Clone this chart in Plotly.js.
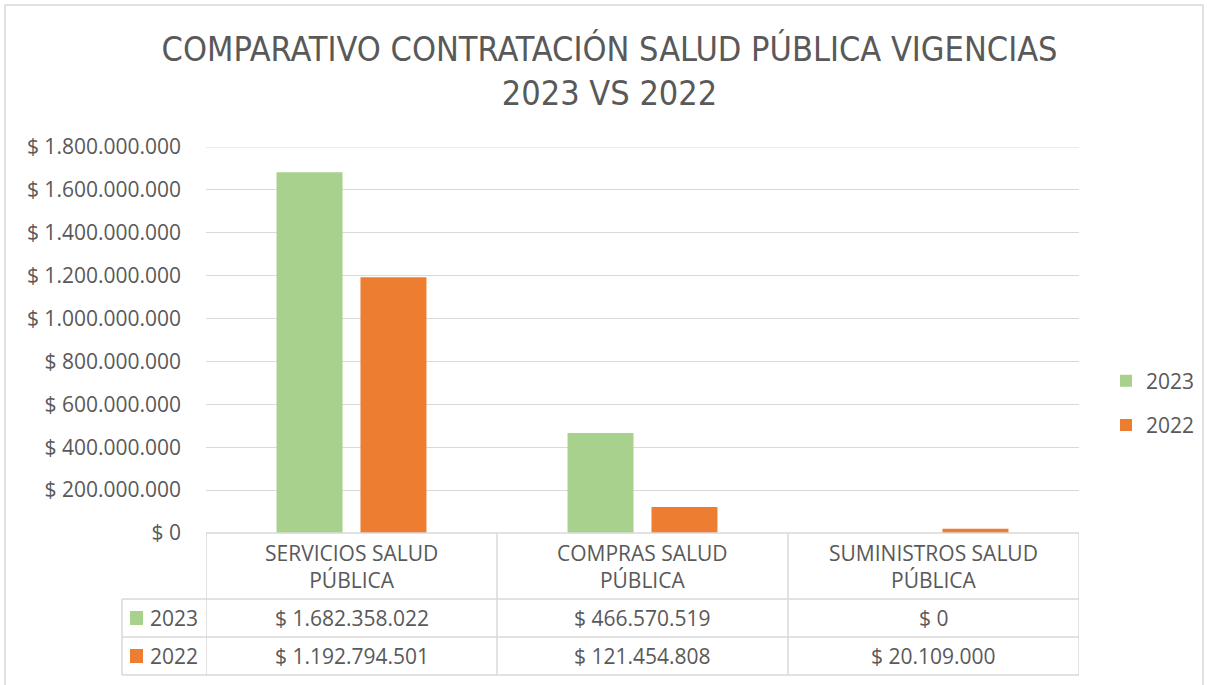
<!DOCTYPE html>
<html>
<head>
<meta charset="utf-8">
<script src="https://cdn.plot.ly/plotly-3.0.1.min.js"></script>
<style>html,body{margin:0;padding:0;background:#fff;}#chart{width:1207px;height:685px;}</style>
</head>
<body>
<div id="chart"></div>
<script>
// ---- data ----
const categories = ['SERVICIOS SALUD PÚBLICA', 'COMPRAS SALUD PÚBLICA', 'SUMINISTROS SALUD PÚBLICA'];
const categoryLabels = ['SERVICIOS SALUD<br>PÚBLICA', 'COMPRAS SALUD<br>PÚBLICA', 'SUMINISTROS SALUD<br>PÚBLICA'];
const seriesNames = ['2023', '2022'];
const values2023 = [1682358022, 466570519, 0];
const values2022 = [1192794501, 121454808, 20109000];
const yTickValues = [0, 200000000, 400000000, 600000000, 800000000, 1000000000, 1200000000, 1400000000, 1600000000, 1800000000];

// ---- style ----
const colors = ['#A9D18E', '#ED7D31'];
const textColor = '#595959';
const lineColor = '#D9D9D9';
const baseFont = 'Open Sans, Lato, sans-serif';
const fs = 21;

function fmt(n) {
  return '$ ' + String(n).replace(/\B(?=(\d{3})+(?!\d))/g, '.');
}

// pixel helpers for plot area: left 206, right 1079, top 147, bottom 533
const L = 206, R = 1079, T = 147, B = 533;
const px2x = p => (p - L) / (R - L);
const py2y = p => (B - p) / (B - T);

const series = [values2023, values2022];
const traces = series.map((vals, i) => ({
  type: 'bar',
  name: seriesNames[i],
  x: categories,
  y: vals,
  marker: {color: colors[i]},
  legendgroup: 'g' + i,
  hoverinfo: 'skip'
}));

const shapes = [];
const annotations = [];
const rowLines = [533, 599, 637, 675];

// outer frame
shapes.push({type: 'rect', xref: 'paper', yref: 'paper', x0: px2x(5), x1: px2x(1203), y0: py2y(5), y1: py2y(700), line: {color: lineColor, width: 1.5}});

// top gridline (at the edge of the range)
const yMax = yTickValues[yTickValues.length - 1];
shapes.push({type: 'line', xref: 'paper', yref: 'y', x0: 0, x1: 1, y0: yMax, y1: yMax, line: {color: lineColor, width: 1}});

// table horizontal lines
shapes.push({type: 'line', xref: 'x', yref: 'paper', x0: -0.5, x1: 2.5, y0: py2y(rowLines[0]), y1: py2y(rowLines[0]), line: {color: lineColor, width: 1.5}});
for (let k = 1; k < rowLines.length; k++) {
  shapes.push({type: 'line', xref: 'paper', yref: 'paper', x0: px2x(122), x1: 1, y0: py2y(rowLines[k]), y1: py2y(rowLines[k]), line: {color: lineColor, width: 1.5}});
}
// vertical lines
shapes.push({type: 'line', xref: 'paper', yref: 'paper', x0: px2x(122), x1: px2x(122), y0: py2y(rowLines[1]), y1: py2y(rowLines[3]), line: {color: lineColor, width: 1.5}});
[-0.5, 0.5, 1.5, 2.5].forEach(xv => {
  shapes.push({type: 'line', xref: 'x', yref: 'paper', x0: xv, x1: xv, y0: py2y(rowLines[0]), y1: py2y(rowLines[3]), line: {color: lineColor, width: 1.5}});
});

// header labels
categories.forEach((c, j) => {
  annotations.push({xref: 'x', yref: 'paper', x: c, y: py2y(566), text: categoryLabels[j], showarrow: false, xanchor: 'center', yanchor: 'middle', font: {family: baseFont, size: fs, color: textColor}});
});
// value rows
const rowCenters = [618, 656];
series.forEach((vals, i) => {
  vals.forEach((v, j) => {
    annotations.push({xref: 'x', yref: 'paper', x: categories[j], y: py2y(rowCenters[i]), text: fmt(v), showarrow: false, xanchor: 'center', yanchor: 'middle', font: {family: baseFont, size: fs, color: textColor}});
  });
  shapes.push({type: 'rect', xref: 'paper', yref: 'paper', x0: px2x(130), x1: px2x(143), y0: py2y(rowCenters[i] - 7), y1: py2y(rowCenters[i] + 7), fillcolor: colors[i], line: {width: 0}});
  annotations.push({xref: 'paper', yref: 'paper', x: px2x(148), y: py2y(rowCenters[i]), text: seriesNames[i], showarrow: false, xanchor: 'left', yanchor: 'middle', font: {family: baseFont, size: fs, color: textColor}});
});

const layout = {
  width: 1207, height: 685,
  margin: {l: L, r: 1207 - R, t: T, b: 685 - B, pad: 0, autoexpand: false},
  paper_bgcolor: '#fff', plot_bgcolor: '#fff',
  separators: ',.',
  title: {
    text: 'COMPARATIVO CONTRATACIÓN SALUD PÚBLICA VIGENCIAS<br>2023 VS 2022',
    font: {family: 'Liberation Sans Narrow, DejaVu Sans Condensed, Open Sans, sans-serif', size: 34, color: textColor},
    xref: 'container', x: 0.505, xanchor: 'center',
    yref: 'container', y: 1 - 61 / 685, yanchor: 'middle'
  },
  barmode: 'group', bargap: 0.423, bargroupgap: 0.214,
  xaxis: {range: [-0.5, 2.5], showticklabels: false, showgrid: false, zeroline: false, showline: false, ticks: '', fixedrange: true},
  yaxis: {range: [0, yMax], tickmode: 'array', tickvals: yTickValues, ticktext: yTickValues.map(fmt), showgrid: true, gridcolor: lineColor, gridwidth: 1, zeroline: false, showline: false, ticks: '', ticklabelstandoff: 24, tickfont: {family: baseFont, size: fs, color: textColor}, fixedrange: true},
  showlegend: true,
  legend: {x: px2x(1106), xanchor: 'left', y: py2y(403), yanchor: 'middle', font: {family: baseFont, size: fs, color: textColor}, tracegroupgap: 14, itemwidth: 30, bgcolor: 'rgba(0,0,0,0)'},
  shapes: shapes,
  annotations: annotations
};

Plotly.newPlot('chart', traces, layout, {displayModeBar: false, staticPlot: true});
</script>
</body>
</html>
